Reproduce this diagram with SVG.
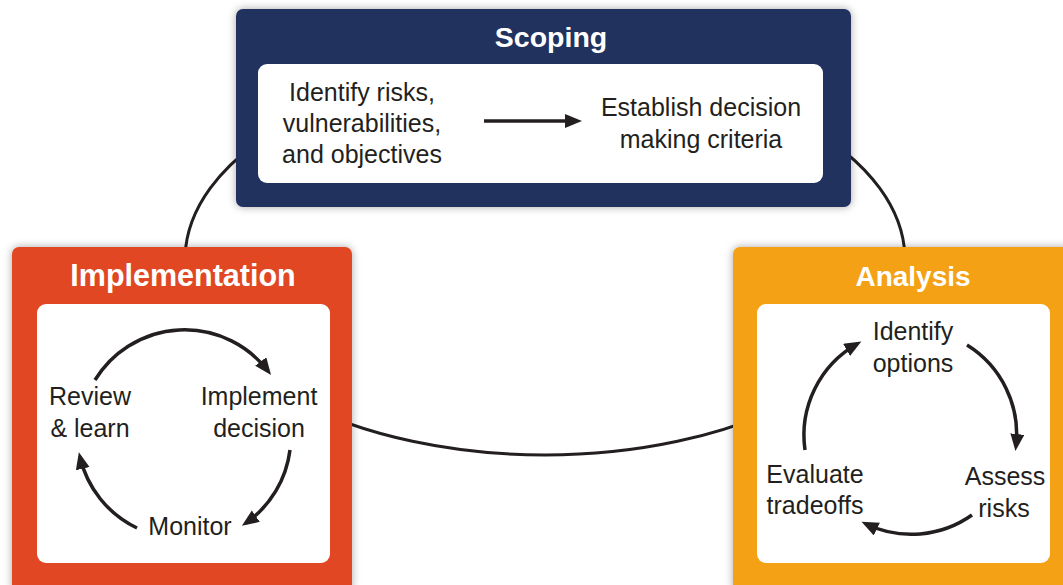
<svg xmlns="http://www.w3.org/2000/svg" width="1063" height="585" viewBox="0 0 1063 585">
<defs>
<style>
.title{font-family:"Liberation Sans",Arial,sans-serif;font-weight:700;font-size:29px;fill:#ffffff;text-anchor:middle}
.body{font-family:"Liberation Sans",Arial,sans-serif;font-size:25px;fill:#231f20;text-anchor:middle}
.inner{fill:#ffffff}
.cyc{fill:none;stroke:#231f20;stroke-width:3.5}
.conn{fill:none;stroke:#231f20;stroke-width:3}
</style>
<filter id="sh" x="-10%" y="-10%" width="120%" height="120%">
<feDropShadow dx="0" dy="0" stdDeviation="4" flood-color="#000" flood-opacity="0.35"/>
</filter>
<marker id="ah" markerUnits="userSpaceOnUse" markerWidth="18" markerHeight="16" refX="12" refY="7" orient="auto">
<path d="M0,0 L17,7 L0,14 z" fill="#231f20"/>
</marker>
</defs>
<rect width="1063" height="585" fill="#ffffff"/>
<g id="connectors">
<ellipse class="conn" cx="545" cy="260" rx="360" ry="195"/>
</g>
<g id="scoping">
<rect x="236" y="9" width="615" height="198" rx="7" fill="#21325e" filter="url(#sh)"/>
<rect class="inner" x="258" y="64" width="565" height="119" rx="9"/>
<text class="title" x="551" y="47" style="font-size:28.5px">Scoping</text>
<text class="body" x="362" y="101">Identify risks,</text>
<text class="body" x="362" y="132">vulnerabilities,</text>
<text class="body" x="362" y="163">and objectives</text>
<line class="cyc" x1="484" y1="121" x2="577" y2="121" marker-end="url(#ah)"/>
<text class="body" x="701" y="116">Establish decision</text>
<text class="body" x="701" y="148">making criteria</text>
</g>
<g id="implementation">
<rect x="12" y="247" width="340" height="345" rx="7" fill="#e04620" filter="url(#sh)"/>
<rect class="inner" x="37" y="304" width="293" height="259" rx="9"/>
<text class="title" x="183" y="286" style="font-size:30.5px">Implementation</text>
<text class="body" x="90" y="405">Review</text>
<text class="body" x="90" y="437">&amp; learn</text>
<text class="body" x="259" y="405">Implement</text>
<text class="body" x="259" y="437">decision</text>
<text class="body" x="190" y="535">Monitor</text>
<path class="cyc" d="M95,380 A105,105 0 0 1 268,371" marker-end="url(#ah)"/>
<path class="cyc" d="M290,450 A105,105 0 0 1 246,523" marker-end="url(#ah)"/>
<path class="cyc" d="M137,528 A105,105 0 0 1 80,457" marker-end="url(#ah)"/>
</g>
<g id="analysis">
<rect x="733" y="247" width="340" height="345" rx="7" fill="#f5a113" filter="url(#sh)"/>
<rect class="inner" x="757" y="304" width="293" height="259" rx="9"/>
<text class="title" x="913" y="286" style="font-size:28px">Analysis</text>
<text class="body" x="913" y="340">Identify</text>
<text class="body" x="913" y="372">options</text>
<text class="body" x="1005" y="485">Assess</text>
<text class="body" x="1004" y="517">risks</text>
<text class="body" x="815" y="483">Evaluate</text>
<text class="body" x="815" y="514">tradeoffs</text>
<path class="cyc" d="M967,345 A105,105 0 0 1 1016,446" marker-end="url(#ah)"/>
<path class="cyc" d="M972,515 A105,105 0 0 1 866,524" marker-end="url(#ah)"/>
<path class="cyc" d="M805,450 A105,105 0 0 1 857,344" marker-end="url(#ah)"/>
</g>
</svg>
